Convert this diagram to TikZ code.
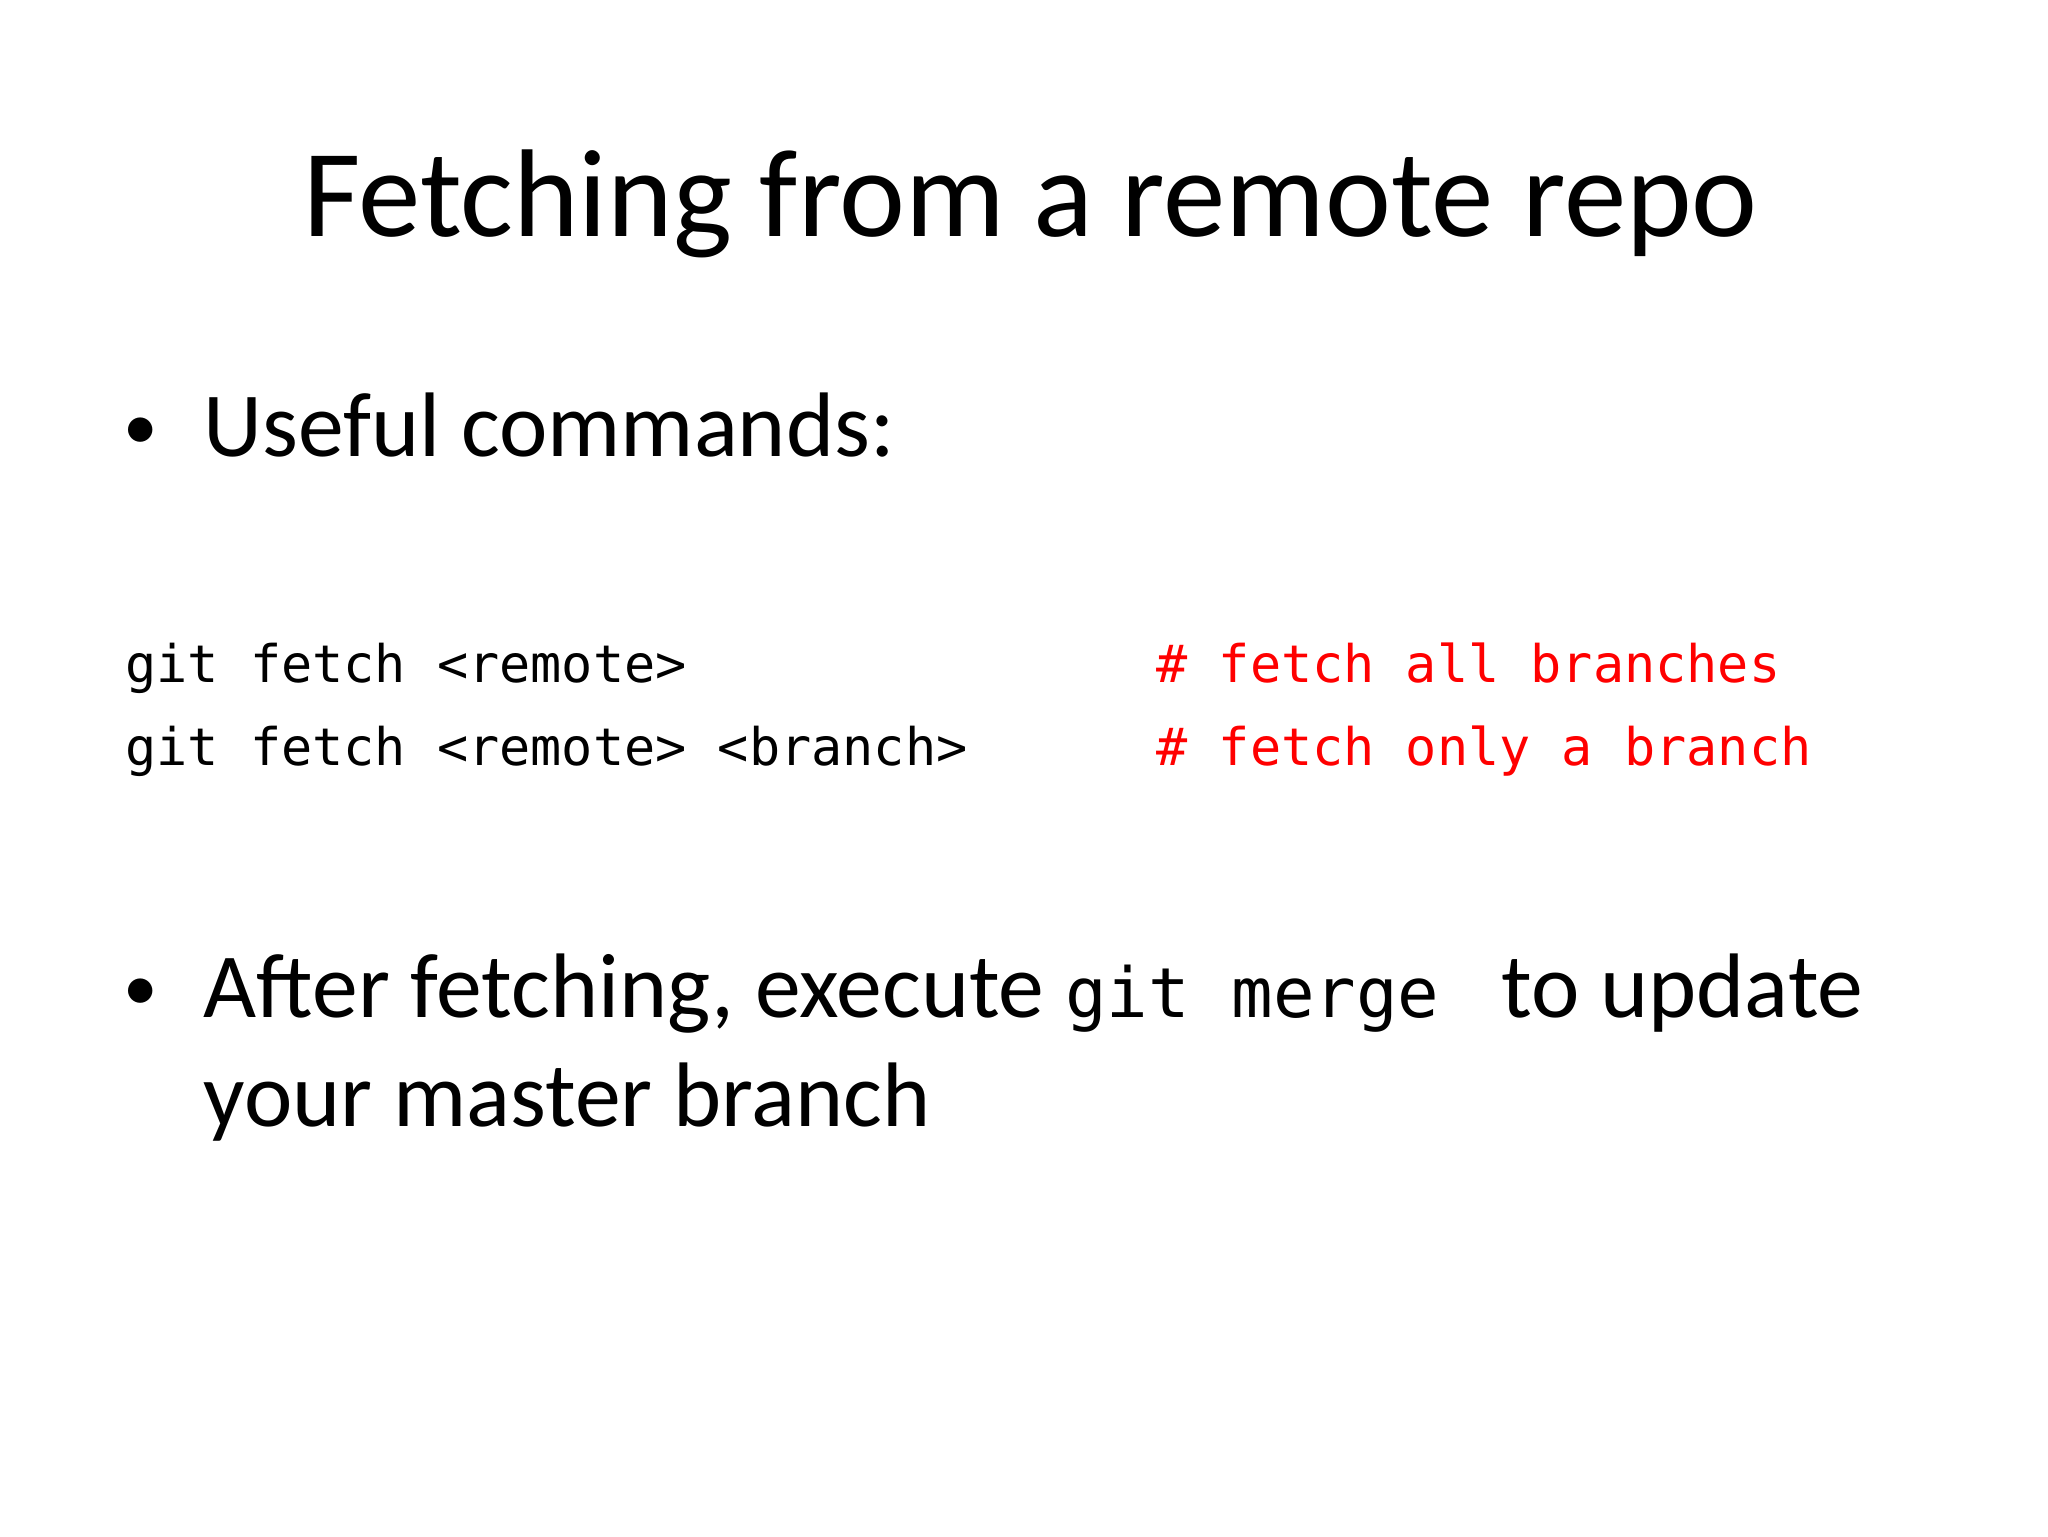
\documentclass[tikz,border=0pt]{standalone}
\usepackage{fontspec}
\setmainfont{Carlito}
\setmonofont{DejaVu Sans Mono}
\usetikzlibrary{positioning}
\definecolor{cmtred}{RGB}{255,0,0}
\tikzset{
  titletext/.style={font=\fontsize{47}{56}\selectfont, inner sep=0pt},
  bullettext/.style={font=\fontsize{34.5}{42}\selectfont, anchor=base west, inner sep=0pt},
  dottext/.style={font=\fontsize{26}{30}\selectfont, anchor=base west, inner sep=0pt},
  codetext/.style={font=\ttfamily\fontsize{19.5}{24}\selectfont, anchor=base west, inner sep=0pt},
  cmttext/.style={codetext, text=cmtred}
}
\begin{document}
\begin{tikzpicture}
\useasboundingbox (0,0) rectangle (27.09,-20.32);
\node[titletext, anchor=base] (title) at (13.63,-3.13) {Fetching from a remote repo};
% bullets
\node[dottext] (dot1) at (1.62,-5.95) {•};
\node[bullettext] (useful) at (2.69,-6.04) {Useful commands:};
% commands
\node[codetext] (fetchall) at (1.65,-9.03) {git fetch <remote>};
\node[codetext] (fetchone) at (1.65,-10.13) {git fetch <remote> <branch>};
\node[cmttext] (cmtall) at (15.29,-9.03) {\# fetch all branches};
\node[cmttext] (cmtone) at (15.29,-10.13) {\# fetch only a branch};
% second bullet
\node[dottext] (dot2) at (1.62,-13.37) {•};
\node[bullettext] (after) at (2.69,-13.46) {After fetching, execute {\ttfamily\fontsize{26}{30}\selectfont git\ merge\ } to update};
\node[bullettext] (master) at (2.69,-14.9) {your master branch};
\end{tikzpicture}
\end{document}
